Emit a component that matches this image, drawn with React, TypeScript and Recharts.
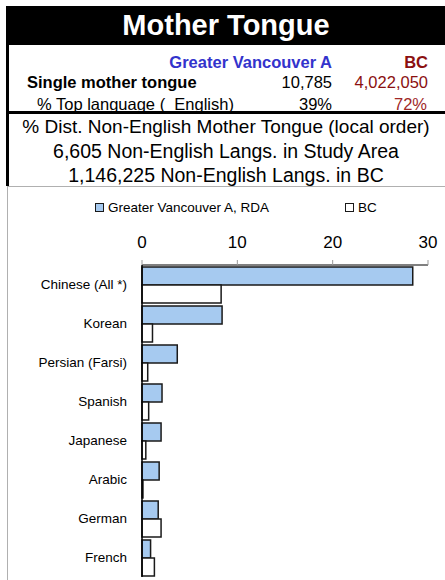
import React from "react";
import { Bar, BarChart, Legend, XAxis, YAxis } from "recharts";

const FONT = '"Liberation Sans", Arial, sans-serif';
const BLUE = "#a6caf0";
const EDGE = "#1a1a1a";
const AREA_COLOR = "#3333cc";
const BC_COLOR = "#8b1010";

const LANGUAGES = [
  "Chinese (All *)",
  "Korean",
  "Persian (Farsi)",
  "Spanish",
  "Japanese",
  "Arabic",
  "German",
  "French",
];
const AREA_PCT = [28.4, 8.4, 3.7, 2.1, 2.0, 1.8, 1.7, 0.9];
const BC_PCT = [8.3, 1.1, 0.6, 0.7, 0.4, 0.1, 2.0, 1.3];
const X_TICKS = [0, 10, 20, 30];

const data = LANGUAGES.map((name, i) => ({
  name,
  area: AREA_PCT[i],
  bc: BC_PCT[i],
}));

function Txt({
  top,
  left,
  right,
  size = 16.5,
  bold = false,
  color = "#000",
  children,
}: {
  top: number;
  left?: number;
  right?: number;
  size?: number;
  bold?: boolean;
  color?: string;
  children: React.ReactNode;
}) {
  return (
    <div
      style={{
        position: "absolute",
        top: top - 10,
        left,
        right,
        height: 20,
        lineHeight: "20px",
        fontSize: size,
        fontWeight: bold ? 700 : 400,
        color,
        whiteSpace: "pre",
      }}
    >
      {children}
    </div>
  );
}

function Centered({ top, size, children }: { top: number; size: number; children: React.ReactNode }) {
  return (
    <div
      style={{
        position: "absolute",
        top: top - 12,
        left: 7,
        width: 438,
        height: 24,
        lineHeight: "24px",
        textAlign: "center",
        fontSize: size,
      }}
    >
      {children}
    </div>
  );
}

function LegendItem({ left, fill, label }: { left: number; fill: string; label: string }) {
  return (
    <div
      style={{
        position: "absolute",
        left,
        top: 0,
        height: 20,
        display: "flex",
        alignItems: "center",
        whiteSpace: "nowrap",
      }}
    >
      <span
        style={{
          display: "inline-block",
          width: 9,
          height: 9,
          boxSizing: "border-box",
          border: `1.5px solid ${EDGE}`,
          background: fill,
          marginRight: 4,
        }}
      />
      <span>{label}</span>
    </div>
  );
}

function LegendRow() {
  return (
    <div style={{ position: "relative", height: 20, fontFamily: FONT, fontSize: 13.5, color: "#000" }}>
      <LegendItem left={88} fill={BLUE} label="Greater Vancouver A, RDA" />
      <LegendItem left={338} fill="#fff" label="BC" />
    </div>
  );
}

export default function App() {
  return (
    <div
      style={{
        position: "absolute",
        left: 0,
        top: 0,
        width: 445,
        height: 580,
        overflow: "hidden",
        background: "#fff",
        fontFamily: FONT,
        color: "#000",
      }}
    >
      {/* title band */}
      <div
        style={{
          position: "absolute",
          left: 7,
          top: 6,
          width: 438,
          height: 39,
          background: "#000",
          color: "#fff",
          fontSize: 29,
          fontWeight: 700,
          lineHeight: "39px",
          textAlign: "center",
        }}
      >
        Mother Tongue
      </div>
      {/* borders */}
      <div style={{ position: "absolute", left: 6, top: 6, width: 3, height: 180, background: "#000" }} />
      <div style={{ position: "absolute", left: 7, top: 111, width: 438, height: 3, background: "#000" }} />
      <div style={{ position: "absolute", left: 7, top: 186, width: 438, height: 1, background: "#b0b0b0" }} />
      <div style={{ position: "absolute", left: 7, top: 186, width: 1, height: 394, background: "#b0b0b0" }} />

      <Txt top={62} right={113} bold color={AREA_COLOR}>Greater Vancouver A</Txt>
      <Txt top={62} right={17} bold color={BC_COLOR}>BC</Txt>
      <Txt top={82} left={27} bold>Single mother tongue</Txt>
      <Txt top={82} right={113}>10,785</Txt>
      <Txt top={82} right={17} color={BC_COLOR}>4,022,050</Txt>
      <Txt top={104} left={37}>% Top language (  English)</Txt>
      <Txt top={104} right={113}>39%</Txt>
      <Txt top={104} right={18} color="#a02828">72%</Txt>

      <Centered top={127} size={19}>% Dist. Non-English Mother Tongue (local order)</Centered>
      <Centered top={151} size={19.5}>6,605 Non-English Langs. in Study Area</Centered>
      <Centered top={175} size={19.5}>1,146,225 Non-English Langs. in BC</Centered>

      <div style={{ position: "absolute", left: 7, top: 187 }}>
        <BarChart
          width={438}
          height={393}
          data={data}
          layout="vertical"
          margin={{ top: 10, right: 17, left: 0, bottom: 3 }}
          barCategoryGap="5%"
          barGap={0}
        >
          <Legend
            verticalAlign="top"
            align="left"
            content={() => <LegendRow />}
            wrapperStyle={{ left: 0, width: 438, height: 20 }}
          />
          <XAxis
            type="number"
            orientation="top"
            domain={[0, 30]}
            ticks={X_TICKS}
            height={48}
            axisLine={{ stroke: "#000", strokeWidth: 1 }}
            tickLine={{ stroke: "#999" }}
            tickSize={5}
            tickMargin={12}
            tick={{ fill: "#000", fontSize: 17, fontFamily: FONT }}
          />
          <YAxis
            type="category"
            dataKey="name"
            width={135}
            axisLine={{ stroke: "#000", strokeWidth: 1.5 }}
            tickLine={false}
            tickMargin={9}
            tick={{ fill: "#000", fontSize: 13.5, fontFamily: FONT }}
            interval={0}
          />
          <Bar dataKey="area" name="Greater Vancouver A, RDA" fill={BLUE} stroke={EDGE} strokeWidth={1.5} isAnimationActive={false} />
          <Bar dataKey="bc" name="BC" fill="#fff" stroke={EDGE} strokeWidth={1.5} isAnimationActive={false} />
        </BarChart>
      </div>
    </div>
  );
}
